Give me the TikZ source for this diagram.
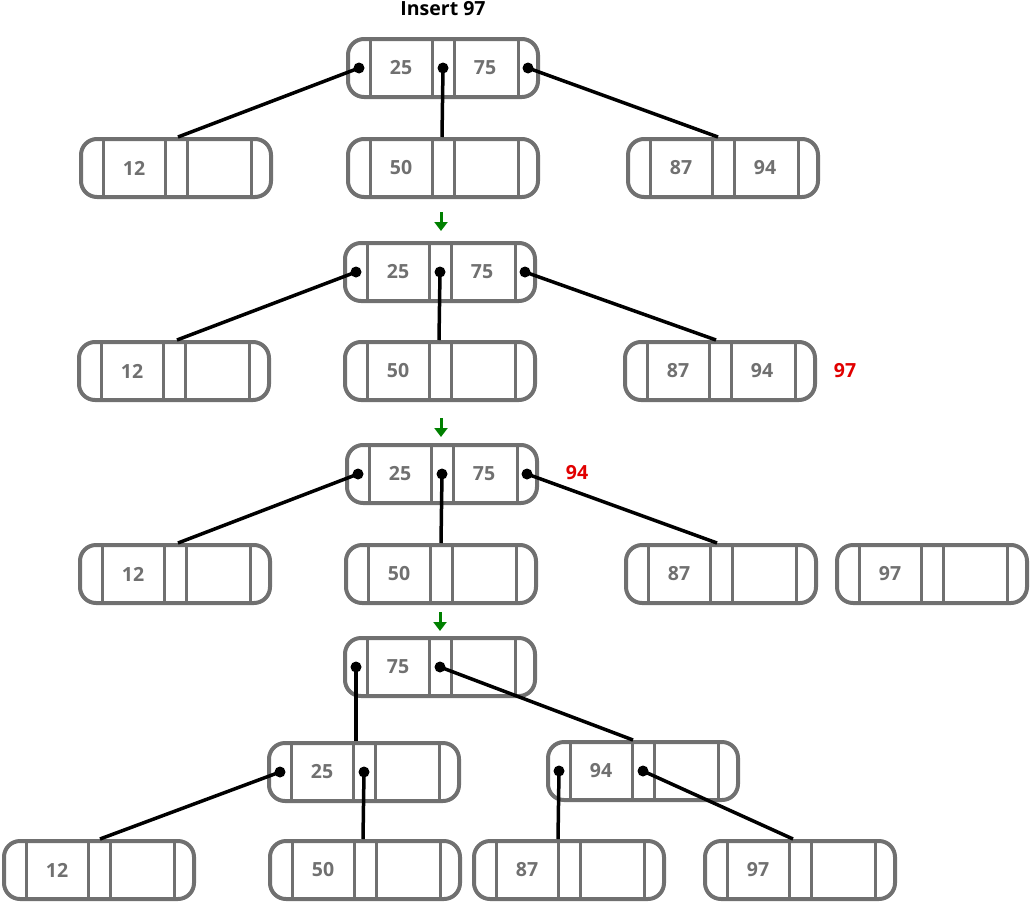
\documentclass[tikz,border=0pt]{standalone}
\usepackage{fontspec}
\setmainfont{Open Sans}
\usetikzlibrary{arrows.meta}
\definecolor{bgray}{RGB}{112,112,112}
\definecolor{hred}{RGB}{225,0,0}
\definecolor{hgreen}{RGB}{0,128,0}
\tikzset{
  bbox/.style={draw=bgray, line width=4pt, rounded corners=16pt, minimum width=190pt, minimum height=58pt, inner sep=0pt},
  divline/.style={draw=bgray, line width=3pt},
  keytxt/.style={text=bgray, font=\bfseries\fontsize{19.5}{20}\selectfont, inner sep=0pt},
  link/.style={draw=black, line width=3.5pt},
  ptrdot/.style={circle, fill=black, inner sep=0pt, minimum size=11pt},
  grarrow/.style={draw=hgreen, line width=3pt, -{Triangle[length=9pt,width=13pt]}},
  redtxt/.style={text=hred, font=\bfseries\fontsize{19.5}{20}\selectfont, inner sep=0pt},
}
\newcommand\btnode[5]{%
  \node[bbox] (#1) at ({#2+95},{#3+29}) {};
  \foreach \dx in {22,84,106,170} {\draw[divline] ({#2+\dx},{#3}) -- ({#2+\dx},{#3+58});}
  \node[keytxt] (#1-k1) at ({#2+53},{#3+29}) {#4};
  \if\relax\detokenize{#5}\relax\else\node[keytxt] (#1-k2) at ({#2+137},{#3+29}) {#5};\fi
  \coordinate (#1-l) at ({#2+11},{#3+29});
  \coordinate (#1-m) at ({#2+95},{#3+29});
  \coordinate (#1-r) at ({#2+180},{#3+29});
  \coordinate (#1-t) at ({#2+95},{#3-2});
}
\newcommand\lnk[3]{% from pointer coordinate, to child top, xshift
  \draw[link] (#1) -- ([xshift=#3pt]#2-t);
  \node[ptrdot] (#1-d) at (#1) {};
}
\begin{document}
\begin{tikzpicture}[x=1pt,y=-1pt]
\useasboundingbox (0,0) rectangle (1030,902);
\node[font=\bfseries\fontsize{19.5}{20}\selectfont, inner sep=0pt] (title) at (443,9) {Insert 97};
% stage 1
\btnode{A}{348}{39}{25}{75}
\btnode{Ba}{81}{139}{12}{}
\btnode{Bb}{348}{139}{50}{}
\btnode{Bc}{628}{139}{87}{94}
\lnk{A-l}{Ba}{2}
\lnk{A-m}{Bb}{-1}
\lnk{A-r}{Bc}{-5}
\coordinate (ar1s) at (441,212);
\coordinate (ar1e) at (441,231);
\draw[grarrow] (ar1s) -- (ar1e);
% stage 2
\btnode{C}{345}{243}{25}{75}
\btnode{Da}{79}{342}{12}{}
\btnode{Db}{345}{342}{50}{}
\btnode{Dc}{625}{342}{87}{94}
\lnk{C-l}{Da}{3}
\lnk{C-m}{Db}{-1}
\lnk{C-r}{Dc}{-4}
\node[redtxt] (new97) at (845,371) {97};
\coordinate (ar2s) at (441,418);
\coordinate (ar2e) at (441,437);
\draw[grarrow] (ar2s) -- (ar2e);
% stage 3
\btnode{E}{347}{445}{25}{75}
\btnode{Fa}{80}{545}{12}{}
\btnode{Fb}{346}{545}{50}{}
\btnode{Fc}{626}{545}{87}{}
\btnode{Fd}{837}{545}{97}{}
\lnk{E-l}{Fa}{3}
\lnk{E-m}{Fb}{0}
\lnk{E-r}{Fc}{-4}
\node[redtxt] (up94) at (577,473) {94};
\coordinate (ar3s) at (440,612);
\coordinate (ar3e) at (440,631);
\draw[grarrow] (ar3s) -- (ar3e);
% stage 4
\btnode{G}{345}{638}{75}{}
\btnode{Ha}{269}{743}{25}{}
\btnode{Hb}{548}{742}{94}{}
\btnode{Ia}{4}{841}{12}{}
\btnode{Ib}{270}{841}{50}{}
\btnode{Ic}{474}{841}{87}{}
\btnode{Id}{705}{841}{97}{}
\lnk{G-l}{Ha}{-8}
\lnk{G-m}{Hb}{-10}
\lnk{Ha-l}{Ia}{1}
\lnk{Ha-m}{Ib}{-2}
\lnk{Hb-l}{Ic}{-11}
\lnk{Hb-m}{Id}{-7}
\end{tikzpicture}
\end{document}
